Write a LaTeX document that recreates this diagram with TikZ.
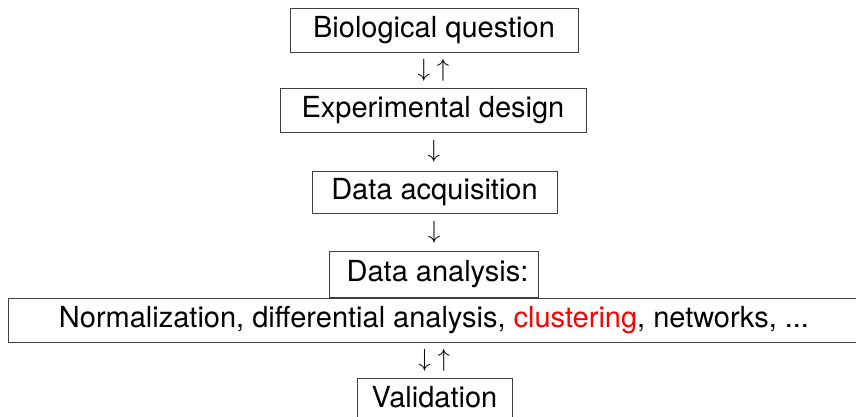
\documentclass[tikz,border=0pt]{standalone}
\usepackage{fontspec}
\setmainfont{TeX Gyre Heros}
\usetikzlibrary{calc}
\begin{document}
\begin{tikzpicture}[x=1pt,y=-1pt,
  stage/.style={draw=black!75, line width=0.9pt, font=\fontsize{29}{34}\selectfont,
    text height=21pt, text depth=6pt, inner sep=0pt, minimum height=44pt},
  flow/.style={font=\fontsize{29}{34}\selectfont, inner sep=0pt}]
\useasboundingbox (0,0) rectangle (856,417);
% pipeline stages
\node[stage, minimum width=288pt] (bio) at (434,30) {Biological question};
\node[stage, minimum width=306pt] (exp) at (433,110) {Experimental design};
\node[stage, minimum width=245pt, minimum height=42pt] (acq) at (434.5,192) {Data acquisition};
\node[stage, minimum width=209pt, minimum height=46pt] (ana) at (433.5,274) {\hspace{8pt}Data analysis:};
\node[stage, minimum width=852pt] (meth) at (434,320)
  {Normalization, differential analysis, \textcolor{red}{clustering}, networks, ...};
\node[stage, minimum width=155pt] (val) at (434.5,400) {Validation};
% arrows between stages
\node[flow] (a1) at ($(bio.south)!0.5!(exp.north)$) {$\downarrow\;\uparrow$};
\node[flow] (a2) at ($(exp.south)!0.5!(acq.north)$) {$\downarrow$};
\node[flow] (a3) at ($(acq.south)!0.5!(ana.north)$) {$\downarrow$};
\node[flow] (a4) at ($(meth.south)!0.5!(val.north)$) {$\downarrow\;\uparrow$};
\end{tikzpicture}
\end{document}
